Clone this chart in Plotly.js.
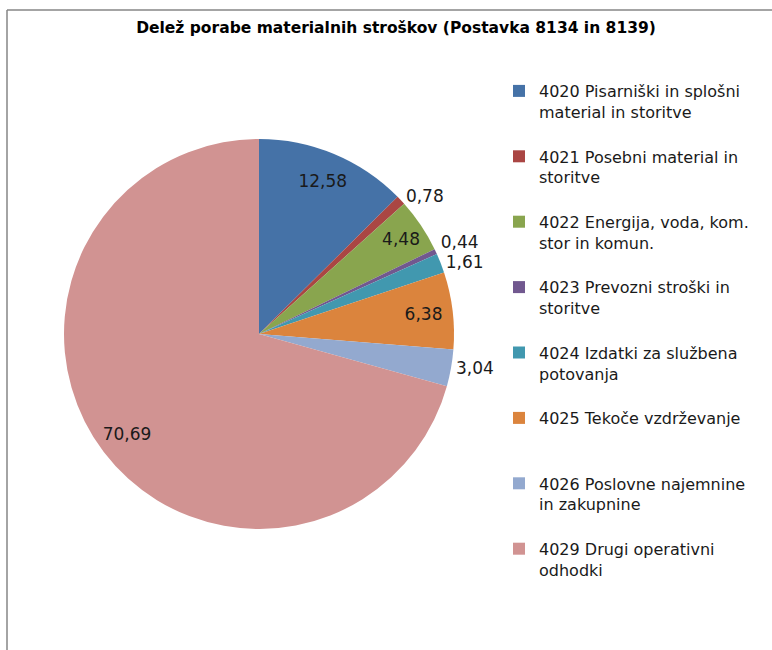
<!DOCTYPE html>
<html>
<head>
<meta charset="utf-8">
<script src="https://cdn.plot.ly/plotly-3.0.1.min.js"></script>
<style>
html,body{margin:0;padding:0;background:#fff;}
#chart{width:772px;height:650px;}
/* Excel draws no leader lines for the moved outside labels */
#chart path.textline{stroke-opacity:0 !important;}
</style>
</head>
<body>
<div id="chart"></div>
<script>
const categories = [
  "4020 Pisarniški in splošni<br>material in storitve<br> ",
  "4021 Posebni material in<br>storitve<br> ",
  "4022 Energija, voda, kom.<br>stor in komun.<br> ",
  "4023 Prevozni stroški in<br>storitve<br> ",
  "4024 Izdatki za službena<br>potovanja<br> ",
  "4025 Tekoče vzdrževanje<br> <br> ",
  "4026 Poslovne najemnine<br>in zakupnine<br> ",
  "4029 Drugi operativni<br>odhodki<br> "
];
const values = [12.58, 0.78, 4.48, 0.44, 1.61, 6.38, 3.04, 70.69];
const colors = ["#4572A7", "#AA4643", "#89A54E", "#71588F", "#4198AF", "#DB843D", "#93A9CF", "#D19392"];
const labelPositions = ["inside", "outside", "inside", "outside", "outside", "inside", "outside", "inside"];
const titleText = "<b>Delež porabe materialnih stroškov (Postavka 8134 in 8139)</b>";

const W = 772, H = 650;
const px = x => x / W;
const py = y => 1 - y / H;
const FONT = "DejaVu Sans";
const pieDomain = { x: [px(64), px(454)], y: [py(529), py(139)] };

// filled pie (slices + legend)
const pieTrace = {
  type: "pie",
  labels: categories,
  values: values,
  sort: false,
  direction: "clockwise",
  rotation: 0,
  marker: { colors: colors, line: { width: 0 } },
  textinfo: "none",
  hoverinfo: "none",
  domain: pieDomain
};

// transparent ring overlay carrying the data labels, so inside labels sit near the rim like Excel's
const labelTrace = {
  type: "pie",
  labels: categories,
  values: values,
  sort: false,
  direction: "clockwise",
  rotation: 0,
  hole: 0.7,
  showlegend: false,
  marker: { colors: categories.map(() => "rgba(0,0,0,0)"), line: { width: 0 } },
  texttemplate: "%{value:.2f}",
  textposition: labelPositions,
  insidetextorientation: "horizontal",
  textfont: { family: FONT, size: 17, color: "#1a1a1a" },
  hoverinfo: "none",
  domain: pieDomain
};

const layout = {
  width: W,
  height: H,
  margin: { l: 0, r: 0, t: 0, b: 0 },
  paper_bgcolor: "#ffffff",
  separators: ", ",
  title: {
    text: titleText,
    font: { family: FONT, size: 15.5, color: "#000000" },
    x: px(396), xanchor: "center", y: py(28), yanchor: "middle", xref: "paper", yref: "paper"
  },
  showlegend: true,
  legend: {
    x: px(499), xanchor: "left",
    y: py(74), yanchor: "top",
    font: { family: FONT, size: 16, color: "#1a1a1a" },
    valign: "top",
    bgcolor: "rgba(0,0,0,0)",
    itemclick: false
  },
  shapes: [
    { type: "line", xref: "paper", yref: "paper", x0: px(7), x1: 1.01, y0: py(10), y1: py(10), line: { color: "#868686", width: 1.5 } },
    { type: "line", xref: "paper", yref: "paper", x0: px(7), x1: px(7), y0: py(10), y1: -0.01, line: { color: "#868686", width: 1.5 } }
  ]
};

Plotly.newPlot("chart", [pieTrace, labelTrace], layout, { displayModeBar: false, staticPlot: true });
</script>
</body>
</html>
